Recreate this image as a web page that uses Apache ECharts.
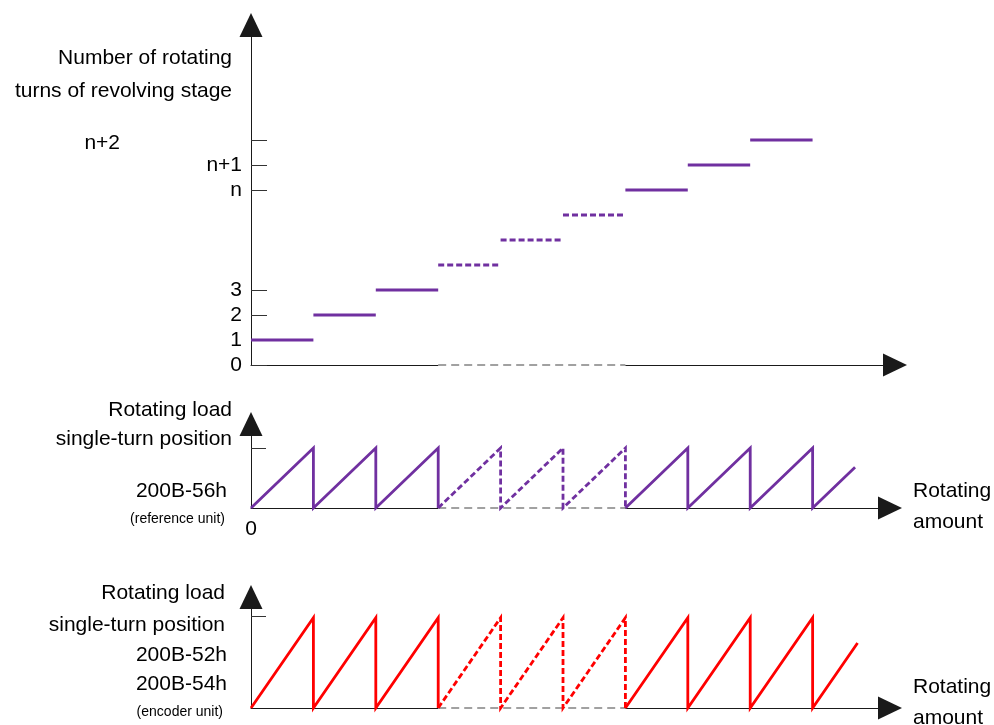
<!DOCTYPE html>
<html>
<head>
<meta charset="utf-8">
<script src="https://cdn.jsdelivr.net/npm/echarts@6/dist/echarts.min.js"></script>
<style>
  html, body { margin: 0; padding: 0; background: #fff; }
  #chart { width: 994px; height: 725px; }
</style>
</head>
<body>
<div id="chart"></div>
<script>
// ---------------- data ----------------
// one full turn of the load per unit of "rotating amount"
const turnIndex      = [0, 1, 2, 3, 4, 5, 6, 7, 8];
const turnLevel      = [1, 2, 3, 4, 5, 6, 7, 8, 9];      // revolving-stage turn count during each turn
const turnDashed     = [0, 0, 0, 1, 1, 1, 0, 0, 0];      // omitted (dashed) turns
const axisGap        = [3, 6];                          // dashed stretch of the rotating-amount axis
const refLastFrac    = 0.68;                            // partial last ramp, reference unit
const encLastFrac    = 0.72;                            // partial last ramp, encoder unit

const turnTickValues = [0, 1, 2, 3, 7, 8, 9];
const turnTickLabels = ['0', '1', '2', '3', 'n', 'n+1', 'n+2'];

const turnTitle   = ['Number of rotating', 'turns of revolving stage'];
const refTitle    = ['Rotating load', 'single-turn position', '200B-56h', '(reference unit)'];
const encTitle    = ['Rotating load', 'single-turn position', '200B-52h', '200B-54h', '(encoder unit)'];
const xName       = ['Rotating', 'amount'];
const originLabel = '0';

// ---------------- styles ----------------
const PURPLE = '#7030A0';
const RED = '#FF0000';
const AXIS = '#1a1a1a';
const FONT = 'Liberation Sans, Arial, sans-serif';
const PX_PER_TURN = 62.4;

function axisLineStyle() {
  return { show: true, onZero: false, symbol: ['none', 'triangle'], symbolSize: [23, 24],
           lineStyle: { color: AXIS, width: 1 } };
}

const grids = [
  { left: 251, top: 25,  width: 644, height: 340 },
  { left: 251, top: 424, width: 639, height: 84 },
  { left: 251, top: 597, width: 639, height: 111 }
].map(g => Object.assign({ containLabel: false, outerBoundsMode: 'none' }, g));

const xAxes = grids.map((g, i) => ({
  type: 'value', gridIndex: i, min: 0, max: +(g.width / PX_PER_TURN).toFixed(3),
  axisLine: axisLineStyle(), axisTick: { show: false }, splitLine: { show: false },
  axisLabel: i === 1 ? { show: true, customValues: [0], formatter: () => originLabel,
                         margin: 11, fontSize: 21, color: '#000', fontFamily: FONT }
                     : { show: false }
}));

const yAxes = [
  {
    type: 'value', gridIndex: 0, min: 0, max: 13.6,
    axisLine: axisLineStyle(), splitLine: { show: false },
    axisTick: { show: true, inside: true, length: 16, customValues: turnTickValues,
                lineStyle: { color: '#333', width: 1 } },
    axisLabel: {
      show: true, customValues: turnTickValues, margin: 9, fontSize: 21, color: '#000', fontFamily: FONT,
      formatter: function (v) {
        const i = turnTickValues.indexOf(v);
        if (i < 0) return '';
        if (i === turnTickValues.length - 1) return '{far|' + turnTickLabels[i] + '}';
        return turnTickLabels[i];
      },
      rich: { far: { fontSize: 21, color: '#000', fontFamily: FONT, padding: [6, 122, 0, 0] } }
    }
  },
  {
    type: 'value', gridIndex: 1, min: 0, max: 1.4,
    axisLine: axisLineStyle(), splitLine: { show: false }, axisLabel: { show: false },
    axisTick: { show: true, inside: true, length: 15, customValues: [1], lineStyle: { color: '#333', width: 1 } }
  },
  {
    type: 'value', gridIndex: 2, min: 0, max: 1.23,
    axisLine: axisLineStyle(), splitLine: { show: false }, axisLabel: { show: false },
    axisTick: { show: true, inside: true, length: 15, customValues: [1.02], lineStyle: { color: '#333', width: 1 } }
  }
];

const series = [];
function line(gi, data, color, width, dashed, z) {
  series.push({
    type: 'line', xAxisIndex: gi, yAxisIndex: gi, data: data, symbol: 'none', showSymbol: false,
    silent: true, animation: false, clip: false, z: z || 2,
    lineStyle: { color: color, width: width, type: dashed ? dashed : 'solid', cap: 'butt', join: 'miter' }
  });
}

// dashed stretch of each horizontal axis
for (let gi = 0; gi < 3; gi++) {
  line(gi, [[axisGap[0], 0], [axisGap[1], 0]], '#fff', 4, null, 1);
  line(gi, [[axisGap[0], 0], [axisGap[1], 0]], '#444', 1.2, [8, 5], 1);
}

// top panel: turn count steps
turnIndex.forEach((k, i) => {
  line(0, [[k, turnLevel[i]], [k + 1, turnLevel[i]]], PURPLE, 3, turnDashed[i] ? [6, 3] : null, 3);
});

// sawtooth panels
function sawtooth(gi, color, lastFrac) {
  let groups = [];
  turnIndex.forEach((k, i) => {
    const d = turnDashed[i];
    let g = groups[groups.length - 1];
    if (!g || g.d !== d) { g = { d: d, pts: [[k, 0]] }; groups.push(g); }
    g.pts.push([k + 1, 1], [k + 1, 0]);
  });
  const last = turnIndex[turnIndex.length - 1] + 1;
  groups[groups.length - 1].pts.push([last + lastFrac, lastFrac]);
  groups.forEach(g => line(gi, g.pts, color, 2.8, g.d ? [6, 3] : null, 3));
}
sawtooth(1, PURPLE, refLastFrac);
sawtooth(2, RED, encLastFrac);

// ---------------- texts ----------------
function txt(x, y, s, align, size) {
  return { type: 'text', x: x, y: y, silent: true,
           style: { text: s, fill: '#000', font: (size || 21) + 'px ' + FONT,
                    textAlign: align || 'right', textVerticalAlign: 'middle' } };
}
const graphics = [
  txt(232, 58, turnTitle[0]), txt(232, 91, turnTitle[1]),
  txt(232, 410, refTitle[0]), txt(232, 439, refTitle[1]), txt(227, 491, refTitle[2]),
  txt(225, 519, refTitle[3], 'right', 14),
  txt(225, 593, encTitle[0]), txt(225, 625, encTitle[1]), txt(227, 655, encTitle[2]),
  txt(227, 684, encTitle[3]), txt(223, 712, encTitle[4], 'right', 14),
  txt(913, 491, xName[0], 'left'), txt(913, 522, xName[1], 'left'),
  txt(913, 687, xName[0], 'left'), txt(913, 718, xName[1], 'left')
];

const chart = echarts.init(document.getElementById('chart'), null, { renderer: 'canvas' });
chart.setOption({
  animation: false,
  backgroundColor: '#fff',
  textStyle: { fontFamily: FONT },
  grid: grids,
  xAxis: xAxes,
  yAxis: yAxes,
  series: series,
  graphic: graphics
});
</script>
</body>
</html>
